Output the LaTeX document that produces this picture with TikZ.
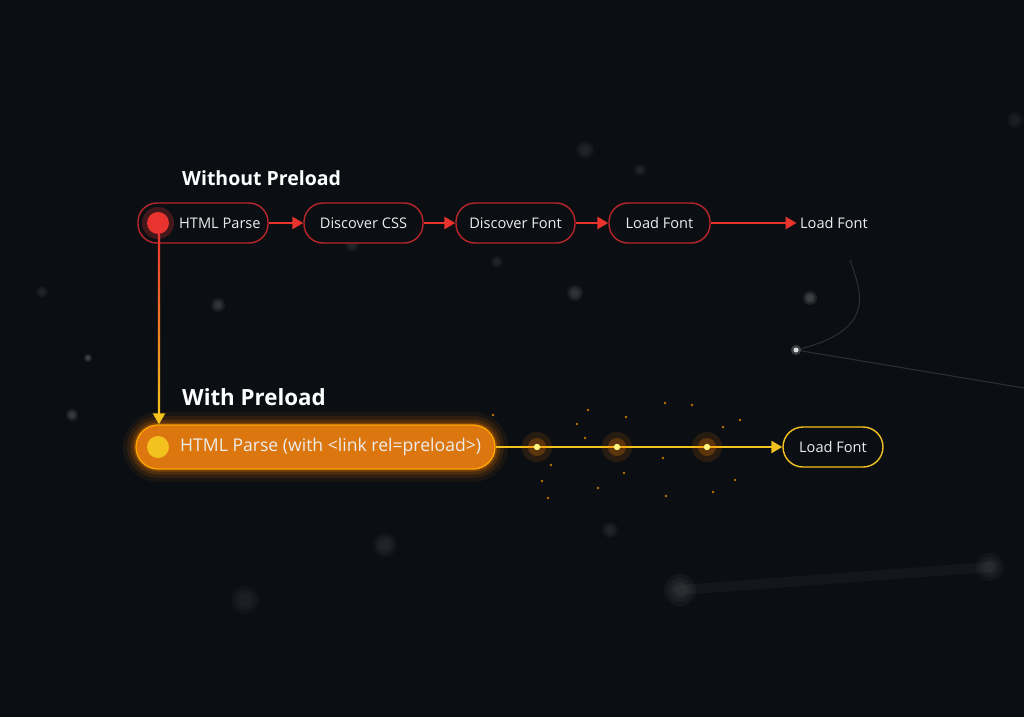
\documentclass[tikz,border=0pt]{standalone}
\usepackage{fontspec}
\setmainfont{Open Sans}
\usetikzlibrary{arrows.meta,shadings}
\definecolor{bg}{HTML}{0B0F14}
\definecolor{redc}{HTML}{E8332E}
\definecolor{redb}{HTML}{B8262A}
\definecolor{orangef}{HTML}{DC760F}
\definecolor{yellowc}{HTML}{F4C21E}
\definecolor{txt}{HTML}{EDEDED}
\tikzset{
  x=1pt,y=-1pt,
  boxfont/.style={font=\fontsize{14.6}{16}\selectfont},
  redbox/.style={draw=redb,line width=1.4pt,rounded corners=19pt,minimum height=40pt,fill=bg,text=txt,boxfont,inner xsep=0pt},
  redarrow/.style={draw=redc,line width=2.6pt,-{Triangle[length=11pt,width=12pt]}},
  yelarrow/.style={draw=yellowc,line width=2.4pt,-{Triangle[length=11pt,width=12pt]}},
  title/.style={text=white,font=\fontsize{19.5}{22}\selectfont\bfseries,inner sep=0pt},
  plain/.style={text=txt,boxfont},
}
\begin{document}
\begin{tikzpicture}
\fill[bg] (0,0) rectangle (1024,717);
\useasboundingbox (0,0) rectangle (1024,717);
% background blurry dots
\foreach \x/\y/\r/\o in {585/150/9/0.05,575/293/8/0.09,218/305/7/0.09,88/358/4/0.12,72/415/6/0.1,810/298/7/0.12,680/590/16/0.06,990/567/14/0.05,385/545/12/0.05,245/600/14/0.04,352/245/7/0.05,497/262/6/0.05,610/530/8/0.05,42/292/6/0.05,1015/120/8/0.04,640/170/6/0.05}
  {\foreach \k in {1.0,0.75,0.5}{\fill[gray!70,opacity=\o] (\x,\y) circle (\k*\r);}}
\draw[gray!60,opacity=0.2,line width=1pt] (796,350) .. controls (880,330) and (860,290) .. (850,260);
\draw[gray!60,opacity=0.2,line width=1pt] (796,350) -- (1024,388);
\fill[white,opacity=0.2] (796,350) circle (5);
\fill[white,opacity=0.8] (796,350) circle (2.5);
\draw[gray!60,opacity=0.05,line width=10pt,line cap=round] (680,590) -- (990,567);
% sparkles
\foreach \x/\y in {493/415,588/410,626/417,665/403,692/405,723/427,740/420,577/424,551/465,598/488,542/481,663/458,624/473,666/496,735/480,713/492,548/498,585/438}
  {\fill[orange!85!yellow,opacity=0.75] (\x,\y) circle (1.4);}

% titles
\node[title,anchor=west] (t1) at (182,178) {Without Preload};
\node[title,anchor=west,font=\fontsize{22.3}{24}\selectfont\bfseries] (t2) at (182,397) {With Preload};

% row 1
\node[redbox,minimum width=130pt] (n1) at (203,223) {};
\node[plain,anchor=west,inner sep=0pt] (n1t) at (179,223) {HTML Parse};
\fill[redc,opacity=0.25] (158,223) circle (16);
\fill[redc] (158,223) circle (11);
\node[redbox,minimum width=119pt] (n2) at (363.5,223) {Discover CSS};
\node[redbox,minimum width=119pt] (n3) at (515.5,223) {Discover Font};
\node[redbox,minimum width=101pt] (n4) at (659.5,223) {Load Font};
\node[plain] (n5) at (834,223) {Load Font};
\draw[redarrow] (n1) -- (n2);
\draw[redarrow] (n2) -- (n3);
\draw[redarrow] (n3) -- (n4);
\draw[redarrow] (n4) -- (n5.west);

% row 2 glow
\foreach \w/\o in {26/0.06,18/0.1,11/0.15,5/0.25}
  {\draw[orange,opacity=\o,line width=\w pt,rounded corners=22pt] (136,425) rectangle (495,469);}
\node[draw=orange!70!yellow,line width=1.3pt,fill=orangef,rounded corners=22pt,minimum width=359pt,minimum height=44pt,inner sep=0pt] (m1) at (315.5,447) {};
\node[text=txt,anchor=west,inner sep=0pt,font=\fontsize{17.6}{19}\selectfont] (m1t) at (180,447) {HTML Parse (with <link rel=preload>)};
\fill[yellowc] (158,447) circle (11);
\node[draw=yellowc,line width=1.4pt,rounded corners=20pt,minimum width=100pt,minimum height=40pt,fill=bg,text=txt,boxfont,inner xsep=0pt] (m2) at (833,447) {Load Font};
\draw[yelarrow] (m1) -- (m2);
\foreach \x in {537,617,707}{
  \fill[orange,opacity=0.12] (\x,447) circle (15);
  \fill[orange,opacity=0.25] (\x,447) circle (9);
  \fill[yellow!50!white] (\x,447) circle (3.2);
}

% vertical connector
\shade[top color=redc,bottom color=yellowc] (157.8,234) rectangle (160.2,414);
\draw[yellowc,line width=2.4pt,-{Triangle[length=11pt,width=12pt]}] (159,413) -- (m1.north -| 159,0);
\end{tikzpicture}
\end{document}
